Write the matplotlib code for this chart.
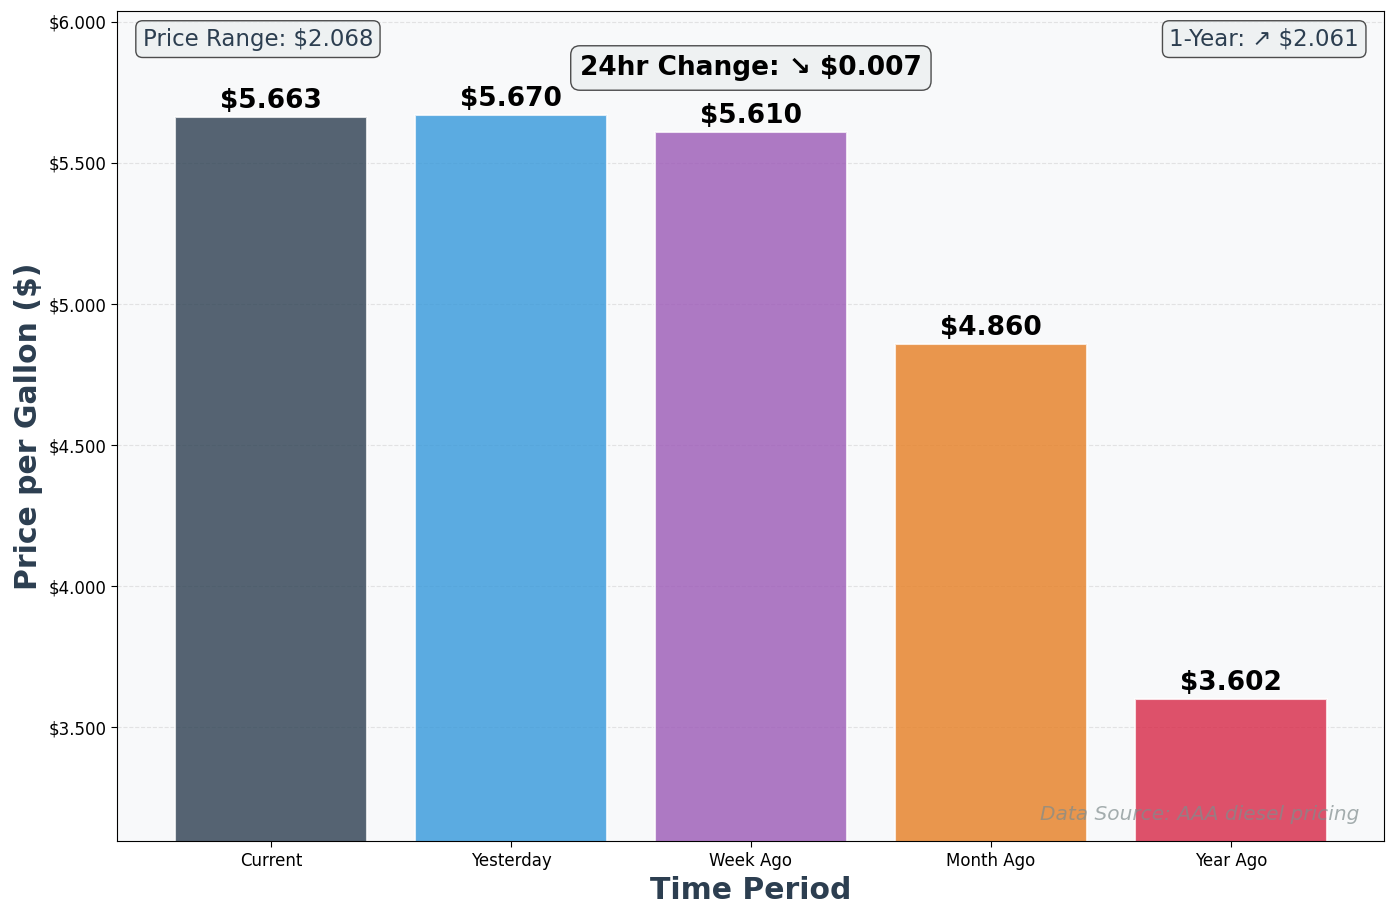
import numpy as np
import matplotlib
matplotlib.use('Agg')
import matplotlib.pyplot as plt
from matplotlib.ticker import FuncFormatter

periods = ['Current', 'Yesterday', 'Week Ago', 'Month Ago', 'Year Ago']
prices = [5.663, 5.670, 5.610, 4.860, 3.602]
barColors = ['#2c3e50', '#3498db', '#9b59b6', '#e67e22', '#d72746']

if __name__ == "__main__":
    fig, ax = plt.subplots(figsize=(13.97, 9.18), dpi=100)
    ax.set_facecolor('#f8f9fa')

    x = np.arange(len(periods))
    ax.bar(x, prices, width=0.8, color=barColors, alpha=0.8,
           edgecolor='white', linewidth=1.5)

    # value labels on top of the bars
    for xi, p in zip(x, prices):
        ax.text(xi, p + 0.01, f'${p:.3f}', ha='center', va='bottom',
                fontsize=19, fontweight='bold')

    ax.set_xticks(x)
    ax.set_xticklabels(periods, fontsize=12)
    ax.tick_params(axis='y', labelsize=12)
    ax.tick_params(axis='both', length=4.5)
    ax.yaxis.set_major_formatter(FuncFormatter(lambda v, pos: f'${v:.3f}'))
    ax.set_ylim(min(prices) * 0.86, max(prices) * 1.065)

    ax.set_xlabel('Time Period', fontsize=21.5, fontweight='bold', color='#2c3e50')
    ax.set_ylabel('Price per Gallon ($)', fontsize=21.5, fontweight='bold', color='#2c3e50')
    ax.grid(axis='y', linestyle='--', alpha=0.3)
    ax.set_axisbelow(True)

    boxStyle = dict(boxstyle='round,pad=0.3', facecolor='#ecf0f1', edgecolor='#222222', alpha=0.8)

    priceRange = max(prices) - min(prices)
    ax.text(0.02, 0.98, f'Price Range: ${priceRange:.3f}', transform=ax.transAxes,
            ha='left', va='top', fontsize=16.5, color='#2c3e50', bbox=boxStyle)

    yearChange = prices[0] - prices[4]
    arrowYear = '↗' if yearChange >= 0 else '↘'
    ax.text(0.98, 0.98, f'1-Year: {arrowYear} ${abs(yearChange):.3f}', transform=ax.transAxes,
            ha='right', va='top', fontsize=16.5, color='#2c3e50', bbox=boxStyle)

    dayChange = prices[0] - prices[1]
    arrowDay = '↗' if dayChange >= 0 else '↘'
    ax.text(0.5, 0.947, f'24hr Change: {arrowDay} ${abs(dayChange):.3f}', transform=ax.transAxes,
            ha='center', va='top', fontsize=19, fontweight='bold', color='black',
            bbox=dict(boxstyle='round,pad=0.35', facecolor='#ecf0f1', edgecolor='#222222', alpha=0.8))

    ax.text(0.98, 0.02, 'Data Source: AAA diesel pricing', transform=ax.transAxes,
            ha='right', va='bottom', fontsize=14.5, style='italic', color='#7f8c8d', alpha=0.7)

    fig.subplots_adjust(left=0.084, right=0.991, top=0.988, bottom=0.084)
    fig.savefig('out.png', dpi=100)
